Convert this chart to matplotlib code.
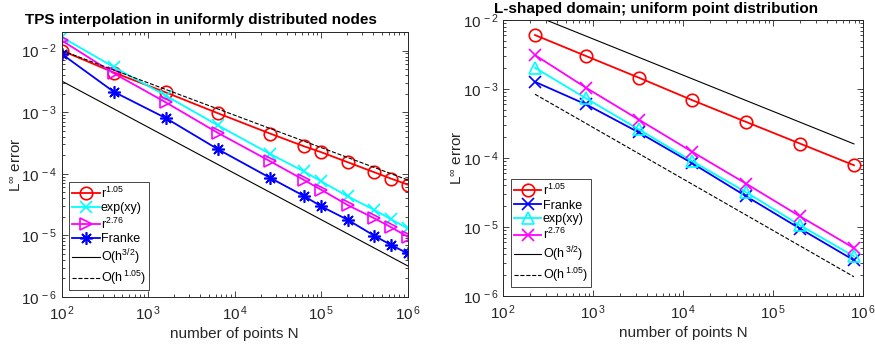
import matplotlib
matplotlib.use("Agg")
import matplotlib.pyplot as plt
from matplotlib.ticker import FuncFormatter, LogLocator, NullFormatter
import numpy as np

plt.rcParams["font.family"] = ["Liberation Sans", "DejaVu Sans"]
plt.rcParams["mathtext.fontset"] = "custom"
plt.rcParams["mathtext.rm"] = "Liberation Sans"
plt.rcParams["mathtext.it"] = "Liberation Sans:italic"
plt.rcParams["mathtext.bf"] = "Liberation Sans:bold"

TXT = "#262626"

# ---- left panel: unit square, uniform nodes ----
n_left = [100, 400, 1600, 6400, 25600, 62500, 100000, 202500, 409600, 640000, 1000000]
left_r105 = [1.0e-2, 4.4e-3, 2.09e-3, 9.6e-4, 4.5e-4, 2.81e-4, 2.24e-4, 1.54e-4, 1.06e-4, 8.35e-5, 6.67e-5]
left_exp = [1.65e-2, 5.4e-3, 1.85e-3, 6.1e-4, 2.1e-4, 1.1e-4, 7.55e-5, 4.3e-5, 2.6e-5, 1.83e-5, 1.3e-5]
left_r276 = [1.46e-2, 4.27e-3, 1.44e-3, 4.6e-4, 1.6e-4, 8.0e-5, 5.5e-5, 3.1e-5, 1.9e-5, 1.36e-5, 9.5e-6]
left_franke = [8.8e-3, 2.14e-3, 8.0e-4, 2.5e-4, 8.6e-5, 4.4e-5, 2.96e-5, 1.79e-5, 9.9e-6, 7.0e-6, 5.1e-6]
left_ref_solid = [3.2e-3, 3.2e-6]      # O(h^{3/2}) at N=1e2 and N=1e6
left_ref_dashed = [1.0e-2, 7.94e-5]    # O(h^{1.05})
left_ref_n = [100, 1000000]

# ---- right panel: L-shaped domain ----
n_right = [225, 833, 3201, 12545, 49665, 197633, 787457]
right_r105 = [6.05e-3, 3.0e-3, 1.46e-3, 6.9e-4, 3.34e-4, 1.62e-4, 7.85e-5]
right_franke = [1.27e-3, 5.97e-4, 2.35e-4, 8.4e-5, 2.8e-5, 9.5e-6, 3.3e-6]
right_exp = [2.03e-3, 7.3e-4, 2.6e-4, 9.0e-5, 3.2e-5, 1.06e-5, 3.76e-6]
right_r276 = [3.1e-3, 1.04e-3, 3.6e-4, 1.23e-4, 4.26e-5, 1.43e-5, 4.95e-6]
right_ref_solid = [1.16e-2, 1.6e-4]
right_ref_dashed = [8.4e-4, 1.9e-6]
right_ref_n = [225, 787457]


def dec_fmt(v, pos):
    e = int(round(np.log10(v)))
    return r"$\mathregular{10^{\,%d}}$" % e


def style_axes(ax, ylim):
    ax.set_xscale("log")
    ax.set_yscale("log")
    ax.set_xlim(1e2, 1e6)
    ax.set_ylim(*ylim)
    for axis in (ax.xaxis, ax.yaxis):
        axis.set_major_locator(LogLocator(base=10, numticks=10))
        axis.set_minor_locator(LogLocator(base=10, subs=np.arange(2, 10), numticks=20))
        axis.set_major_formatter(FuncFormatter(dec_fmt))
        axis.set_minor_formatter(NullFormatter())
    ax.tick_params(which="both", direction="in", top=True, right=True,
                   colors=TXT, labelsize=11, width=0.6)
    ax.tick_params(which="major", length=4)
    ax.tick_params(which="minor", length=2.5)
    ax.tick_params(axis="x", pad=5)
    for s in ax.spines.values():
        s.set_color(TXT)
        s.set_linewidth(0.7)
    ax.set_xlabel("number of points N", fontsize=11, color=TXT, labelpad=3)
    ax.set_ylabel(r"L$^{\infty}$ error", fontsize=11, color=TXT, labelpad=-2)


def add_legend(ax, anchor):
    leg = ax.legend(loc="lower left", bbox_to_anchor=anchor, borderaxespad=0,
                    fontsize=9, numpoints=1, handlelength=2.2, handletextpad=0.1,
                    labelspacing=0.15, borderpad=0.25, fancybox=False, framealpha=1,
                    edgecolor=TXT)
    leg.get_frame().set_linewidth(0.6)


fig = plt.figure(figsize=(8.75, 3.49), dpi=100)

lw = 1.3
ms = 9

ax1 = fig.add_axes([61.7 / 875, 52 / 349, 346 / 875, 265 / 349])
ax1.plot(n_left, left_r105, "-o", color="red", lw=lw, ms=ms, mfc="none", mew=1.2, label=r"r$^{1.05}$")
ax1.plot(n_left, left_exp, "-x", color="cyan", lw=lw, ms=ms, mew=1.2, label="exp(xy)")
ax1.plot(n_left, left_r276, "->", color="magenta", lw=lw, ms=ms, mfc="none", mew=1.2, label=r"r$^{2.76}$")
ax1.plot(n_left, left_franke, "-", marker=(8, 2, 0), color="blue", lw=lw, ms=ms, mew=1.2, label="Franke")
ax1.plot(left_ref_n, left_ref_solid, "-", color="black", lw=0.8, label=r"O(h$^{3/2}$)")
ax1.plot(left_ref_n, left_ref_dashed, "--", color="black", lw=0.8, label=r"O(h$^{\,1.05}$)")
style_axes(ax1, (1e-6, 2e-2))
ax1.set_title("TPS interpolation in uniformly distributed nodes", fontsize=11,
              fontweight="bold", x=0.403, pad=6)
add_legend(ax1, (0.021, 0.026))

ax2 = fig.add_axes([503.3 / 875, 53 / 349, 360 / 875, 276 / 349])
ax2.plot(n_right, right_r105, "-o", color="red", lw=lw, ms=ms, mfc="none", mew=1.2, label=r"r$^{1.05}$")
ax2.plot(n_right, right_franke, "-x", color="blue", lw=lw, ms=ms, mew=1.2, label="Franke")
ax2.plot(n_right, right_exp, "-^", color="cyan", lw=lw, ms=ms, mfc="none", mew=1.2, label="exp(xy)")
ax2.plot(n_right, right_r276, "-x", color="magenta", lw=lw, ms=ms, mew=1.2, label=r"r$^{2.76}$")
ax2.plot(right_ref_n, right_ref_solid, "-", color="black", lw=0.8, label=r"O(h$^{\,3/2}$)")
ax2.plot(right_ref_n, right_ref_dashed, "--", color="black", lw=0.8, label=r"O(h$^{\,1.05}$)")
style_axes(ax2, (1e-6, 1e-2))
ax2.set_title("L-shaped domain; uniform point distribution", fontsize=11,
              fontweight="bold", x=0.424, pad=5)
add_legend(ax2, (0.021, 0.032))

fig.savefig("out.png", dpi=100)
